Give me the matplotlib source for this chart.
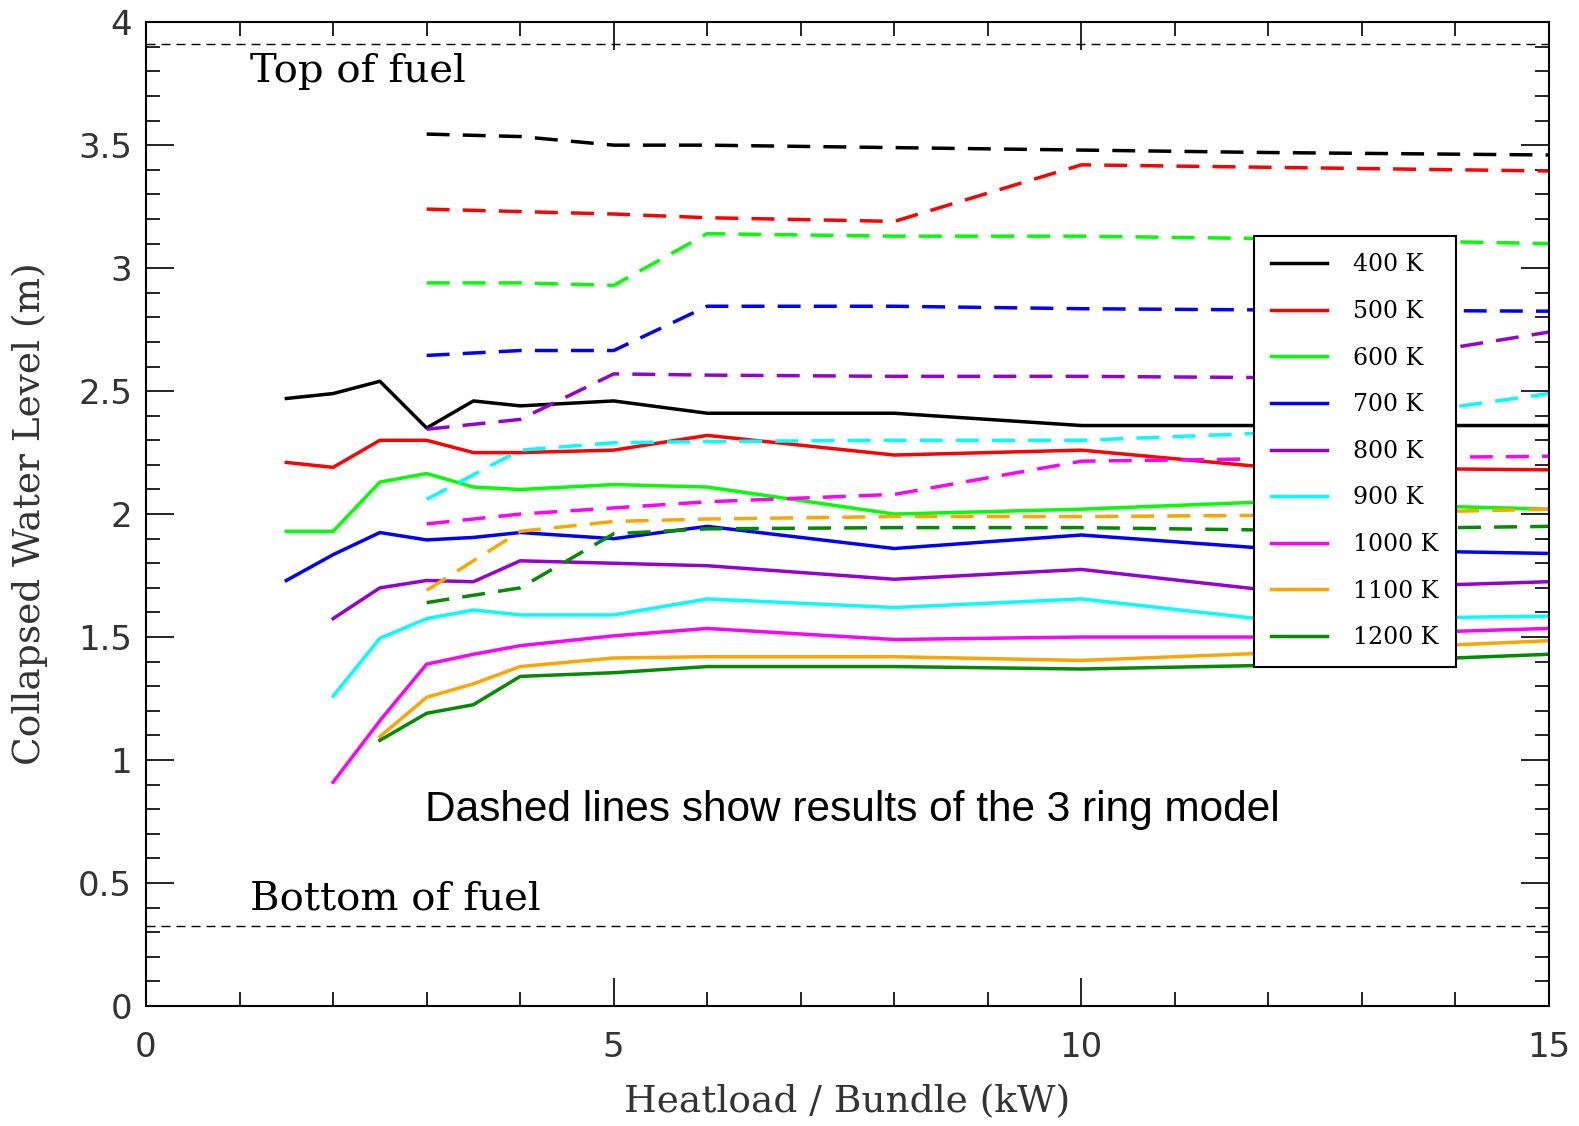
import matplotlib
matplotlib.use("Agg")
from matplotlib import pyplot as plt
from matplotlib.ticker import MultipleLocator

# heatload per bundle (kW)
x_solid = [1.5, 2, 2.5, 3, 3.5, 4, 5, 6, 8, 10, 12, 15]
x_dash = [3, 4, 5, 6, 8, 10, 12, 15]

temps = ["400 K", "500 K", "600 K", "700 K", "800 K", "900 K", "1000 K", "1100 K", "1200 K"]
colors = ["black", "#ff0000", "#00ff00", "#0000ff", "#9400d3", "#00ffff", "#ff00ff", "#ffa500", "#008b00"]

# collapsed water level (m), single ring model
lvl_400 = [2.47, 2.49, 2.54, 2.35, 2.46, 2.44, 2.46, 2.41, 2.41, 2.36, 2.36, 2.36]
lvl_500 = [2.21, 2.19, 2.30, 2.30, 2.25, 2.25, 2.26, 2.32, 2.24, 2.26, 2.19, 2.18]
lvl_600 = [1.93, 1.93, 2.13, 2.165, 2.11, 2.10, 2.12, 2.11, 2.00, 2.02, 2.05, 2.02]
lvl_700 = [1.73, 1.835, 1.925, 1.895, 1.905, 1.925, 1.90, 1.95, 1.86, 1.915, 1.86, 1.84]
lvl_800 = [1.575, 1.70, 1.73, 1.725, 1.81, 1.80, 1.79, 1.735, 1.775, 1.69, 1.725]
lvl_900 = [1.26, 1.495, 1.575, 1.61, 1.59, 1.59, 1.655, 1.62, 1.655, 1.57, 1.585]
lvl_1000 = [0.91, 1.16, 1.39, 1.43, 1.465, 1.505, 1.535, 1.49, 1.50, 1.50, 1.535]
lvl_1100 = [1.095, 1.255, 1.31, 1.38, 1.415, 1.42, 1.42, 1.405, 1.435, 1.485]
lvl_1200 = [1.08, 1.19, 1.225, 1.34, 1.355, 1.38, 1.38, 1.37, 1.385, 1.43]

# collapsed water level (m), 3 ring model
ring3_400 = [3.545, 3.535, 3.50, 3.50, 3.49, 3.48, 3.47, 3.46]
ring3_500 = [3.24, 3.23, 3.22, 3.205, 3.19, 3.42, 3.41, 3.395]
ring3_600 = [2.94, 2.94, 2.93, 3.14, 3.13, 3.13, 3.12, 3.10]
ring3_700 = [2.645, 2.665, 2.665, 2.845, 2.845, 2.835, 2.83, 2.825]
ring3_800 = [2.345, 2.385, 2.57, 2.565, 2.56, 2.56, 2.555, 2.74]
ring3_900 = [2.06, 2.26, 2.29, 2.295, 2.30, 2.30, 2.33, 2.49]
ring3_1000 = [1.96, 2.00, 2.025, 2.05, 2.08, 2.215, 2.225, 2.235]
ring3_1100 = [1.69, 1.93, 1.97, 1.98, 1.99, 1.99, 1.995, 2.02]
ring3_1200 = [1.64, 1.70, 1.92, 1.94, 1.945, 1.945, 1.935, 1.95]

top_of_fuel = 3.91
bottom_of_fuel = 0.325

solid = [lvl_400, lvl_500, lvl_600, lvl_700, lvl_800, lvl_900, lvl_1000, lvl_1100, lvl_1200]
dashed = [ring3_400, ring3_500, ring3_600, ring3_700, ring3_800, ring3_900,
          ring3_1000, ring3_1100, ring3_1200]

fig = plt.figure(figsize=(15.79, 11.26), dpi=100)
ax = fig.add_axes([0.0925, 0.1066, 0.8885, 0.8737])

for name, col, y, yd in zip(temps, colors, solid, dashed):
    xs = x_solid[len(x_solid) - len(y):]
    ax.plot(xs, y, color=col, lw=2.5, label=name)
    ax.plot(x_dash, yd, color=col, lw=2.5, dashes=(6.6, 3.8))

ax.axhline(top_of_fuel, color="black", lw=1.0, dashes=(6.5, 4.3))
ax.axhline(bottom_of_fuel, color="black", lw=1.0, dashes=(6.5, 4.3))
ax.text(1.11, 3.80, "Top of fuel", family="DejaVu Serif", fontsize=29, va="center")
ax.text(1.11, 0.435, "Bottom of fuel", family="DejaVu Serif", fontsize=29, va="center")
ax.text(7.55, 0.795, "Dashed lines show results of the 3 ring model",
        family="Liberation Sans", fontsize=30.5, ha="center", va="center")

ax.set_xlim(0, 15)
ax.set_ylim(0, 4)
ax.xaxis.set_major_locator(MultipleLocator(5))
ax.xaxis.set_minor_locator(MultipleLocator(1))
ax.yaxis.set_minor_locator(MultipleLocator(0.1))
ax.set_yticks([0, 0.5, 1, 1.5, 2, 2.5, 3, 3.5, 4])
ax.set_yticklabels(["0", "0.5", "1", "1.5", "2", "2.5", "3", "3.5", "4"])
ax.tick_params(which="both", direction="in", top=True, right=True, width=1.2,
               labelsize=24.5, labelcolor="#333333")
ax.tick_params(axis="x", which="both", pad=18)
ax.tick_params(axis="y", which="both", pad=10)
ax.tick_params(which="major", length=20)
ax.tick_params(which="minor", length=10)
for s in ax.spines.values():
    s.set_linewidth(1.5)
for lab in ax.get_xticklabels() + ax.get_yticklabels():
    lab.set_family("DejaVu Sans")

ax.set_xlabel("Heatload / Bundle (kW)", family="DejaVu Serif", fontsize=27,
              color="#333333")
ax.set_ylabel("Collapsed Water Level (m)", family="DejaVu Serif", fontsize=27,
              color="#333333")
ax.xaxis.set_label_coords(0.5, -0.079)
ax.yaxis.set_label_coords(-0.07, 0.5)

leg = ax.legend(loc="upper left", bbox_to_anchor=(0.7895, 0.783), frameon=True,
                fancybox=False, framealpha=1, edgecolor="black", borderaxespad=0,
                prop={"family": "DejaVu Serif", "size": 17},
                handlelength=2.35, labelspacing=1.0, handletextpad=1.1,
                borderpad=0.75)
leg.get_frame().set_linewidth(1.5)

fig.savefig("out.png", dpi=100)
